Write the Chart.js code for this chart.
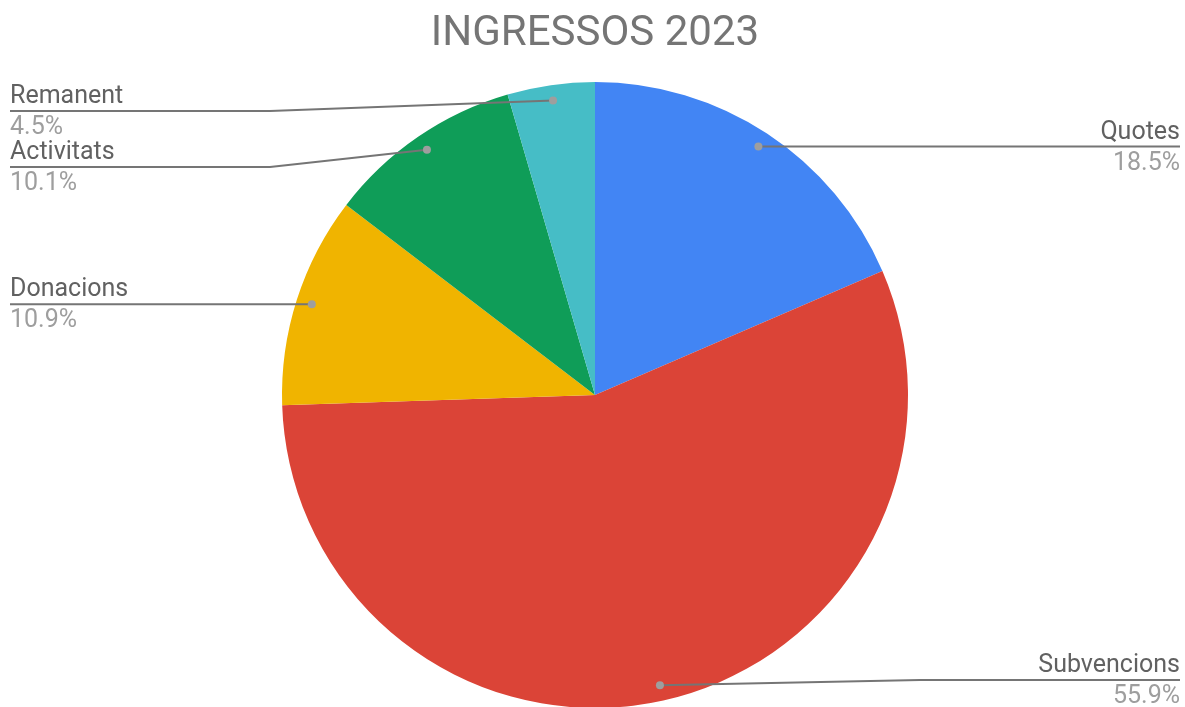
<!DOCTYPE html>
<html>
<head>
<meta charset="utf-8">
<script src="https://cdn.jsdelivr.net/npm/chart.js@4/dist/chart.umd.min.js"></script>
<style>
  html, body { margin: 0; padding: 0; background: #fff; }
  #chart { display: block; }
</style>
</head>
<body>
<canvas id="chart" width="1185" height="707"></canvas>
<script>
// Chart data
const categories = ['Quotes', 'Subvencions', 'Donacions', 'Activitats', 'Remanent'];
const shares = [18.5, 55.9, 10.9, 10.1, 4.5];
const sliceColors = ['#4285f4', '#db4437', '#f0b400', '#0f9d58', '#46bdc6'];
const chartTitle = 'INGRESSOS 2023';

const FONT = 'Roboto, "Noto Sans", sans-serif';

// Title + leader-line labels, Google Sheets style
const labelPlugin = {
    id: 'sheetLabels',
    afterDatasetsDraw(chart) {
        const ctx = chart.ctx;
        const area = chart.chartArea;
        const W = chart.width, H = chart.height;
        const arcs = chart.getDatasetMeta(0).data;

        ctx.save();
        ctx.fillStyle = '#757575';
        ctx.font = '42px ' + FONT;
        ctx.textAlign = 'center';
        ctx.textBaseline = 'middle';
        ctx.fillText(chartTitle, area.left + (area.right - area.left) / 2, 34);

        const items = arcs.map((arc, i) => {
            const mid = (arc.startAngle + arc.endAngle) / 2;
            const r = arc.outerRadius * 0.95;
            const x = arc.x + Math.cos(mid) * r;
            const y = arc.y + Math.sin(mid) * r;
            return { i, x, y, cx: arc.x, right: x >= arc.x };
        });

        const minY = area.top + 28;
        const maxY = H - 27;
        const gap = 56;
        [true, false].forEach(side => {
            const list = items.filter(it => it.right === side).sort((a, b) => a.y - b.y);
            let prev = -Infinity;
            list.forEach(it => {
                it.ly = Math.min(maxY, Math.max(it.y, minY, prev + gap));
                prev = it.ly;
            });
        });

        items.forEach(it => {
            const endX = it.right ? W - 5 : 10;
            const bendX = it.right ? it.cx + 325 : it.cx - 325;

            ctx.strokeStyle = '#757575';
            ctx.lineWidth = 2;
            ctx.beginPath();
            ctx.moveTo(it.x, it.y);
            if ((it.right && it.x < bendX) || (!it.right && it.x > bendX)) {
                ctx.lineTo(bendX, it.ly);
            }
            ctx.lineTo(endX, it.ly);
            ctx.stroke();

            ctx.fillStyle = '#9e9e9e';
            ctx.beginPath();
            ctx.arc(it.x, it.y, 4, 0, Math.PI * 2);
            ctx.fill();

            ctx.textAlign = it.right ? 'right' : 'left';
            ctx.font = '25px ' + FONT;
            ctx.textBaseline = 'alphabetic';
            ctx.fillStyle = '#616161';
            ctx.fillText(categories[it.i], endX, it.ly - 8);
            ctx.fillStyle = '#9e9e9e';
            ctx.fillText(shares[it.i].toFixed(1) + '%', endX, it.ly + 23);
        });
        ctx.restore();
    }
};

new Chart(document.getElementById('chart'), {
    type: 'pie',
    data: {
        labels: categories,
        datasets: [{
            data: shares,
            backgroundColor: sliceColors,
            borderWidth: 0
        }]
    },
    options: {
        responsive: false,
        animation: false,
        radius: 313,
        layout: { padding: { top: 83, left: 5, right: 0, bottom: 0 } },
        plugins: {
            legend: { display: false },
            tooltip: { enabled: false },
            title: { display: false }
        }
    },
    plugins: [labelPlugin]
});
</script>
</body>
</html>
